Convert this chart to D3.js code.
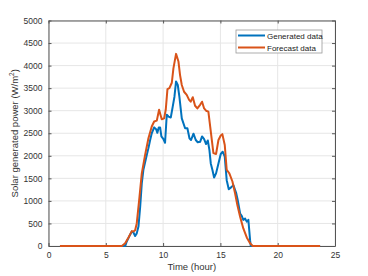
<!DOCTYPE html>
<html>
<head>
<meta charset="utf-8">
<script src="https://cdn.jsdelivr.net/npm/d3@7"></script>
<style>
  body { margin: 0; background: #fff; }
  text { font-family: "Liberation Sans", Arial, sans-serif; }
</style>
</head>
<body>
<svg></svg>
<script>
// generated power (hour, W/m2)
var genTime = [1, 6.7, 6.83, 7.1, 7.27, 7.41, 7.56, 7.7, 7.85, 8.0, 8.14, 8.28, 8.58, 8.72, 8.87, 9.01, 9.22, 9.39, 9.5, 9.62, 9.74, 9.85, 10.03, 10.17, 10.32, 10.47, 10.67, 10.84, 10.99, 11.13, 11.28, 11.42, 11.63, 11.92, 12.12, 12.3, 12.44, 12.65, 12.85, 13.02, 13.23, 13.4, 13.58, 13.75, 13.9, 14.04, 14.16, 14.3, 14.45, 14.62, 14.83, 15.03, 15.2, 15.38, 15.55, 15.73, 15.93, 16.13, 16.37, 16.51, 16.72, 16.86, 17.0, 17.15, 17.3, 17.44, 17.59, 17.65, 23.7];
var genPower = [0, 0, 100, 240, 320, 300, 220, 280, 430, 870, 1390, 1690, 2020, 2170, 2350, 2500, 2630, 2590, 2510, 2630, 2630, 2430, 2370, 2290, 2910, 2870, 2850, 3090, 3310, 3650, 3570, 3310, 2830, 2610, 2610, 2390, 2350, 2490, 2350, 2300, 2310, 2430, 2370, 2260, 2340, 2130, 1830, 1690, 1520, 1610, 1830, 2040, 2090, 1980, 1460, 1260, 1300, 1350, 1180, 1020, 720, 670, 580, 610, 540, 580, 130, 0, 0];

// forecast power (hour, W/m2)
var fcTime = [1, 6.4, 6.69, 6.98, 7.27, 7.41, 7.56, 7.7, 7.94, 8.14, 8.43, 8.72, 9.01, 9.22, 9.45, 9.65, 9.88, 10.09, 10.23, 10.38, 10.55, 10.76, 10.9, 11.13, 11.34, 11.48, 11.63, 11.83, 12.06, 12.27, 12.41, 12.59, 12.79, 12.99, 13.23, 13.4, 13.58, 13.75, 13.95, 14.16, 14.39, 14.62, 14.83, 15.03, 15.17, 15.38, 15.55, 15.78, 16.05, 16.28, 16.48, 16.72, 17.0, 17.3, 17.59, 17.82, 23.7];
var fcPower = [0, 0, 60, 190, 330, 320, 350, 500, 1090, 1610, 2020, 2390, 2650, 2760, 2780, 3020, 2810, 2830, 3020, 3480, 3500, 3620, 3940, 4260, 4090, 3790, 3570, 3420, 3350, 3240, 3200, 3300, 3110, 3050, 3130, 3200, 3050, 3000, 2980, 2540, 2060, 2040, 2350, 2450, 2480, 2240, 1690, 1610, 1430, 1170, 910, 650, 390, 190, 60, 0, 0];

var xTicks = [0, 5, 10, 15, 20, 25];
var yTicks = [0, 500, 1000, 1500, 2000, 2500, 3000, 3500, 4000, 4500, 5000];
var seriesNames = ['Generated data', 'Forecast data'];
var seriesColors = ['#0072BD', '#D95319'];

var W = 368, H = 276;
var margin = {left: 48.5, right: 33, top: 20.5, bottom: 30};

var svg = d3.select("svg")
    .attr("width", W)
    .attr("height", H)

var x = d3.scaleLinear().domain([0, 25]).range([margin.left, W - margin.right]);
var y = d3.scaleLinear().domain([0, 5000]).range([H - margin.bottom, margin.top]);

// grid
svg.append('g').selectAll('line.gx')
    .data(xTicks).enter().append('line')
    .attr('x1', d => x(d)).attr('x2', d => x(d))
    .attr('y1', y(0)).attr('y2', y(5000))
    .style('stroke', '#e6e6e6').style('stroke-width', 1)
svg.append('g').selectAll('line.gy')
    .data(yTicks).enter().append('line')
    .attr('x1', x(0)).attr('x2', x(25))
    .attr('y1', d => y(d)).attr('y2', d => y(d))
    .style('stroke', '#e6e6e6').style('stroke-width', 1)

// axes
var fmt = d3.format('d');
var xAxis = d3.axisBottom(x).tickValues(xTicks).tickFormat(fmt).tickSizeInner(-3).tickSizeOuter(0).tickPadding(6);
var yAxis = d3.axisLeft(y).tickValues(yTicks).tickFormat(fmt).tickSizeInner(-3).tickSizeOuter(0).tickPadding(6);

var gx = svg.append('g').attr('transform', 'translate(0,' + y(0) + ')').call(xAxis);
var gy = svg.append('g').attr('transform', 'translate(' + x(0) + ',0)').call(yAxis);
var gx2 = svg.append('g').attr('transform', 'translate(0,' + y(5000) + ')')
    .call(d3.axisTop(x).tickValues(xTicks).tickSizeInner(-3).tickSizeOuter(0).tickFormat(''));
var gy2 = svg.append('g').attr('transform', 'translate(' + x(25) + ',0)')
    .call(d3.axisRight(y).tickValues(yTicks).tickSizeInner(-3).tickSizeOuter(0).tickFormat(''));

[gx, gy, gx2, gy2].forEach(function(g) {
    g.selectAll('path').style('stroke', '#555')
    g.selectAll('line').style('stroke', '#555')
    g.selectAll('text').style('fill', '#333').style('font-size', '8.5px')
})

// lines
var line = d3.line().x(d => x(d[0])).y(d => y(d[1]));
var genData = genTime.map((t, i) => [t, genPower[i]]);
var fcData = fcTime.map((t, i) => [t, fcPower[i]]);

svg.append('path').datum(genData).attr('d', line)
    .style('fill', 'none').style('stroke', seriesColors[0]).style('stroke-width', 2)
    .style('stroke-linejoin', 'round')
svg.append('path').datum(fcData).attr('d', line)
    .style('fill', 'none').style('stroke', seriesColors[1]).style('stroke-width', 2)
    .style('stroke-linejoin', 'round')

// labels
svg.append('text').attr('x', x(12.5)).attr('y', 270)
    .attr('text-anchor', 'middle').style('font-size', '9.5px').style('fill', '#333')
    .text('Time (hour)')

var yl = svg.append('text').attr('transform', 'translate(18,' + y(2500) + ') rotate(-90)')
    .attr('text-anchor', 'middle').style('font-size', '9.5px').style('fill', '#333')
yl.append('tspan').text('Solar generated power (W/m')
yl.append('tspan').attr('dy', -4).style('font-size', '6.5px').text('2')
yl.append('tspan').attr('dy', 4).text(')')

// legend
var lg = svg.append('g')
lg.append('rect').attr('x', 236).attr('y', 30).attr('width', 86).attr('height', 23)
    .style('fill', '#fff').style('stroke', '#999').style('stroke-width', 0.8)
seriesNames.forEach(function(n, i) {
    var ly = 35.5 + i * 12
    lg.append('line').attr('x1', 238).attr('x2', 265).attr('y1', ly).attr('y2', ly)
        .style('stroke', seriesColors[i]).style('stroke-width', 2)
    lg.append('text').attr('x', 267).attr('y', ly + 3).style('font-size', '8px').style('fill', '#222').text(n)
})
</script>
</body>
</html>
